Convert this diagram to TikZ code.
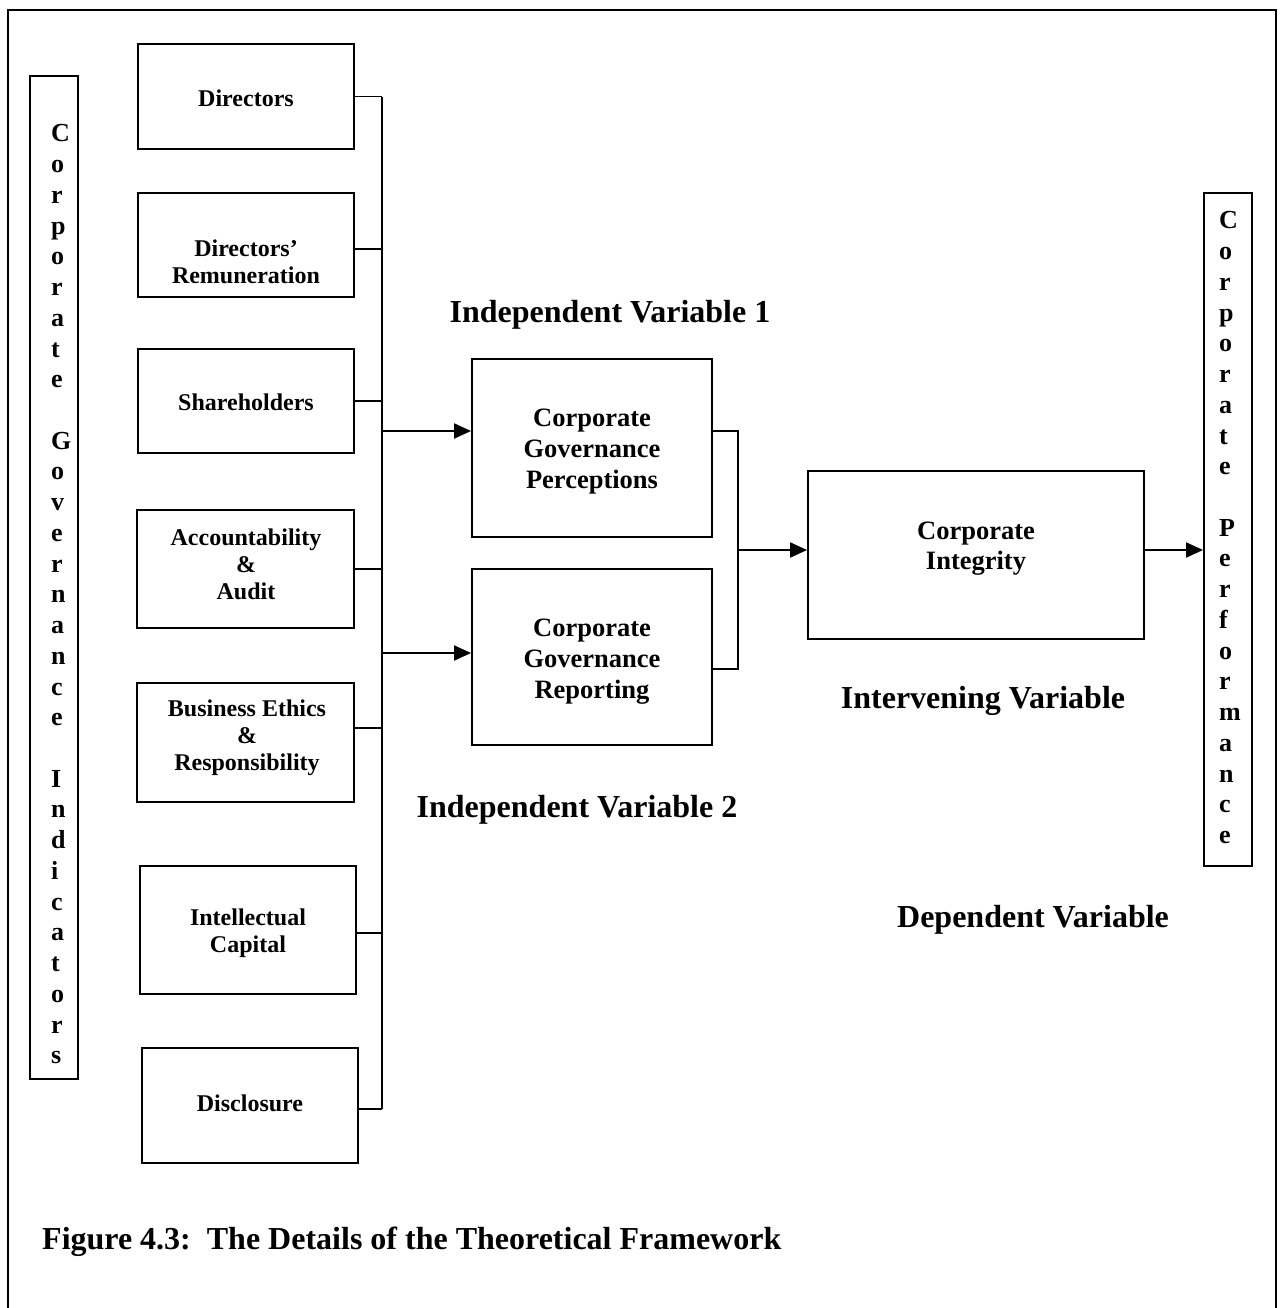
\documentclass[tikz,border=0pt]{standalone}
\usepackage{fontspec}
\setmainfont{Liberation Serif}
\usetikzlibrary{arrows.meta}
\begin{document}
\begin{tikzpicture}[x=1pt,y=-1pt,
  box/.style={draw, line width=1.9pt, inner sep=0pt},
  lbl/.style={font=\bfseries\fontsize{24}{27}\selectfont, align=center, inner sep=0pt},
  biglbl/.style={font=\bfseries\fontsize{26.5}{30.7}\selectfont, align=center, inner sep=0pt},
  head/.style={font=\bfseries\fontsize{32}{36}\selectfont, inner sep=0pt},
  vert/.style={font=\bfseries\fontsize{26}{30.73}\selectfont, align=left, inner sep=0pt, anchor=north west},
  wire/.style={line width=1.9pt},
  arr/.style={line width=1.9pt, -{Triangle[length=17pt,width=15pt]}},
]
\useasboundingbox (0,0) rectangle (1282,1308);
% page frame, open at the bottom
\draw[line width=2.2pt] (8,1308) -- (8,10) -- (1276,10) -- (1276,1308);

% tall side boxes with stacked letters
\node[box, minimum width=48pt, minimum height=1003pt] (cgi) at (54,577.5) {};
\node[vert] (cgiT) at (51,124.5) {C\\o\\r\\p\\o\\r\\a\\t\\e\\\mbox{}\\G\\o\\v\\e\\r\\n\\a\\n\\c\\e\\\mbox{}\\I\\n\\d\\i\\c\\a\\t\\o\\r\\s};
\node[box, minimum width=48pt, minimum height=673pt] (cpf) at (1228,529.5) {};
\node[vert] (cpfT) at (1219,211.5) {C\\o\\r\\p\\o\\r\\a\\t\\e\\\mbox{}\\P\\e\\r\\f\\o\\r\\m\\a\\n\\c\\e};

% governance indicator boxes
\node[box, minimum width=216pt, minimum height=105pt] (dir) at (246,96.5) {};
\node[lbl] (dirT) at (246,98) {Directors};
\node[box, minimum width=216pt, minimum height=104pt] (rem) at (246,245) {};
\node[lbl] (remT) at (246,262) {Directors’\\Remuneration};
\node[box, minimum width=216pt, minimum height=104pt] (sha) at (246,401) {};
\node[lbl] (shaT) at (246,402) {Shareholders};
\node[box, minimum width=217pt, minimum height=118pt] (acc) at (245.5,569) {};
\node[lbl] (accT) at (246,564.5) {Accountability\\\&\\Audit};
\node[box, minimum width=217pt, minimum height=119pt] (bus) at (245.5,742.5) {};
\node[lbl] (busT) at (247,738) {Business Ethics\\\&\\Responsibility};
\node[box, minimum width=216pt, minimum height=128pt] (int) at (248,930) {};
\node[lbl] (intT) at (248,933) {Intellectual\\Capital};
\node[box, minimum width=216pt, minimum height=115pt] (dis) at (250,1105.5) {};
\node[lbl] (disT) at (250,1103) {Disclosure};

% independent, intervening boxes
\node[box, minimum width=240pt, minimum height=178pt] (cgp) at (592,448) {};
\node[biglbl] (cgpT) at (592,451.5) {Corporate\\Governance\\Perceptions};
\node[box, minimum width=240pt, minimum height=176pt] (cgr) at (592,657) {};
\node[biglbl] (cgrT) at (592,661.5) {Corporate\\Governance\\Reporting};
\node[box, minimum width=336pt, minimum height=168pt] (ci) at (976,555) {};
\node[biglbl] (ciT) at (976,548.5) {Corporate\\Integrity};

% headings
\node[head] (iv1) at (610,315) {Independent Variable 1};
\node[head] (iv2) at (577,810) {Independent Variable 2};
\node[head] (ivv) at (983,701) {Intervening Variable};
\node[head] (dv) at (1033,920) {Dependent Variable};
\node[head, anchor=west] (cap) at (42,1242) {Figure 4.3:\ \ The Details of the Theoretical Framework};

% collecting bus on the left
\coordinate (busTop) at (382,97);
\coordinate (busBot) at (382,1109);
\draw[wire] (busTop) -- (busBot);
\draw[wire] (dir.east) -- (dir.east -| busTop);
\draw[wire] ([yshift=-4pt]rem.east) -- ([yshift=-4pt]rem.east -| busTop);
\draw[wire] (sha.east) -- (sha.east -| busTop);
\draw[wire] (acc.east) -- (acc.east -| busTop);
\draw[wire] ([yshift=14.5pt]bus.east) -- ([yshift=14.5pt]bus.east -| busTop);
\draw[wire] ([yshift=-3pt]int.east) -- ([yshift=-3pt]int.east -| busTop);
\draw[wire] ([yshift=-3.5pt]dis.east) -- ([yshift=-3.5pt]dis.east -| busTop);

% arrows into the independent variables
\coordinate (j1) at (382,431);
\coordinate (j2) at (382,653);
\draw[arr] (j1) -- (j1 -| cgp.west);
\draw[arr] (j2) -- (j2 -| cgr.west);

% merge towards corporate integrity
\coordinate (m1) at (738,431);
\coordinate (m2) at (738,669);
\coordinate (mj) at (738,550);
\draw[wire] (m1 -| cgp.east) -- (m1) -- (m2) -- (m2 -| cgr.east);
\draw[arr] (mj) -- (mj -| ci.west);
\draw[arr] (mj -| ci.east) -- (mj -| cpf.west);
\end{tikzpicture}
\end{document}
